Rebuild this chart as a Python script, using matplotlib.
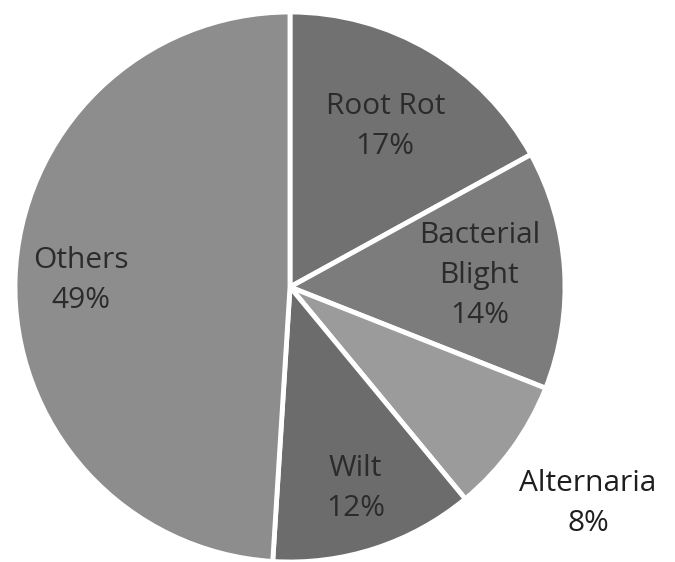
import matplotlib.pyplot as plt
import numpy as np

diseases = ['Root Rot', 'Bacterial\nBlight', 'Alternaria', 'Wilt', 'Others']
shares = [17, 14, 8, 12, 49]
colours = ['#717171', '#7c7c7c', '#9b9b9b', '#6c6c6c', '#8d8d8d']
label_dist = [0.68, 0.69, 1.34, 0.77, 0.76]

plt.rcParams['font.family'] = ['Open Sans', 'DejaVu Sans']

fig = plt.figure(figsize=(6.75, 5.62), dpi=100)
ax = fig.add_axes([15 / 675, 0, 550 / 675, 550 / 562])

wedges, _ = ax.pie(shares, colors=colours, startangle=90, counterclock=False,
                   wedgeprops=dict(edgecolor='white', linewidth=3.5))

for w, name, pct, d in zip(wedges, diseases, shares, label_dist):
    mid = np.deg2rad((w.theta1 + w.theta2) / 2)
    x, y = d * np.cos(mid), d * np.sin(mid)
    col = '#1e1e1e' if d > 1 else '#2b2b2b'
    ax.text(x, y, f'{name}\n{pct}%', ha='center', va='center', fontsize=21.5,
            color=col, linespacing=1.5, clip_on=False)

ax.set_xlim(-1, 1)
ax.set_ylim(-1, 1)
ax.set_aspect('equal')
ax.axis('off')

fig.savefig('out.png', dpi=100)
